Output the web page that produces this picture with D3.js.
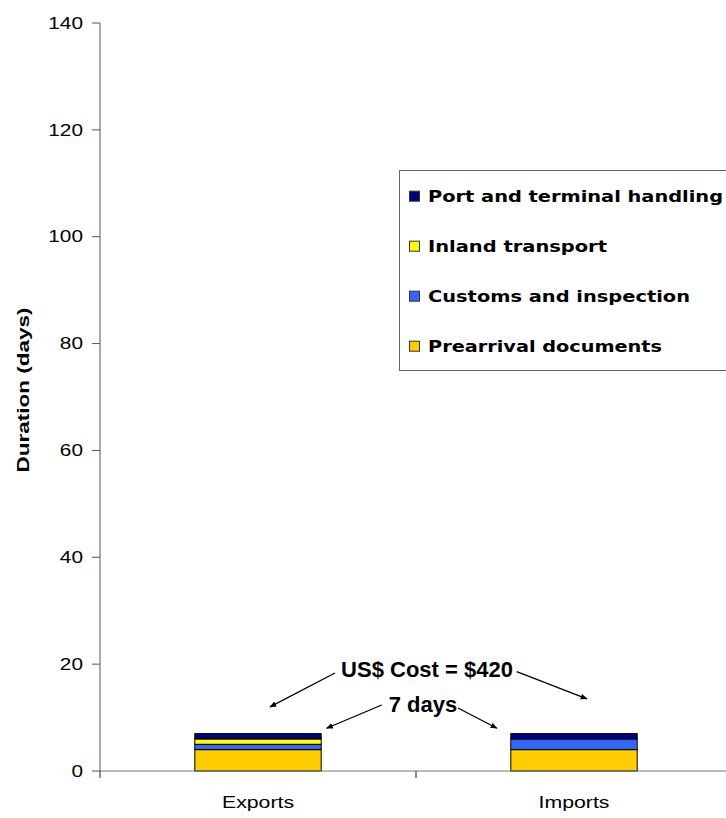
<!DOCTYPE html>
<html>
<head>
<meta charset="utf-8">
<script src="https://cdn.jsdelivr.net/npm/d3@7"></script>
<style>
  html, body { margin: 0; padding: 0; background: #fff; }
  svg { display: block; }
</style>
</head>
<body>
<svg id="chart" width="726" height="818"></svg>
<script>
// Time to trade, broken down by procedure stage (days)
const categories = ["Exports", "Imports"];
const stages = ["Prearrival documents", "Customs and inspection", "Inland transport", "Port and terminal handling"];
const prearrival = [4, 4];
const customs = [1, 2];
const inland = [1, 0];
const portHandling = [1, 1];
const yTicks = [0, 20, 40, 60, 80, 100, 120, 140];
const costLabel = "US$ Cost = $420";
const daysLabel = "7 days";

const colors = ["#FFCC00", "#3366FF", "#FFFF00", "#000080"];

const svg = d3.select("#chart");
const plotLeft = 100, plotRight = 732, plotTop = 23, plotBottom = 771;

const x = d3.scaleBand().domain(categories).range([plotLeft, plotRight]).padding(0);
const y = d3.scaleLinear().domain([0, 140]).range([plotBottom, plotTop]);

const rows = categories.map((c, i) => ({
  cat: c,
  "Prearrival documents": prearrival[i],
  "Customs and inspection": customs[i],
  "Inland transport": inland[i],
  "Port and terminal handling": portHandling[i]
}));
const series = d3.stack().keys(stages)(rows);

// Stacked bars
const barW = x.bandwidth() * 0.4;
series.forEach((s, k) => {
  svg.append("g").selectAll("rect").data(s.filter(d => d[1] > d[0])).join("rect")
    .attr("x", d => x(d.data.cat) + (x.bandwidth() - barW) / 2)
    .attr("width", barW)
    .attr("y", d => y(d[1]))
    .attr("height", d => y(d[0]) - y(d[1]))
    .attr("fill", colors[k])
    .attr("stroke", "#000")
    .attr("stroke-width", 1);
});

// Y axis
const yAxis = svg.append("g");
yAxis.append("line").attr("x1", plotLeft).attr("x2", plotLeft).attr("y1", plotTop).attr("y2", plotBottom)
  .attr("stroke", "#555").attr("stroke-width", 1);
yTicks.forEach(t => {
  yAxis.append("line").attr("x1", plotLeft - 8).attr("x2", plotLeft).attr("y1", y(t)).attr("y2", y(t))
    .attr("stroke", "#555");
  yAxis.append("text")
    .attr("transform", `translate(83,${y(t)}) scale(1.3,1)`)
    .attr("text-anchor", "end").attr("dy", "0.36em")
    .attr("font-family", "Liberation Sans, Arial, sans-serif").attr("font-size", 16)
    .attr("fill", "#000").text(t);
});

// X axis
const xAxis = svg.append("g");
xAxis.append("line").attr("x1", plotLeft).attr("x2", plotRight).attr("y1", plotBottom).attr("y2", plotBottom)
  .attr("stroke", "#777").attr("stroke-width", 1.2);
[plotLeft, ...categories.map(c => x(c) + x.bandwidth())].forEach(px => {
  xAxis.append("line").attr("x1", px).attr("x2", px).attr("y1", plotBottom).attr("y2", plotBottom + 7)
    .attr("stroke", "#222");
});
categories.forEach(c => {
  xAxis.append("text")
    .attr("transform", `translate(${x(c) + x.bandwidth() / 2},808) scale(1.33,1)`)
    .attr("text-anchor", "middle")
    .attr("font-family", "Liberation Sans, Arial, sans-serif").attr("font-size", 16)
    .attr("fill", "#000").text(c);
});

// Y axis title
svg.append("text")
  .attr("transform", "translate(29,390) rotate(-90)")
  .attr("text-anchor", "middle")
  .attr("font-family", "Liberation Sans, Arial, sans-serif").attr("font-size", 17).attr("font-weight", "bold")
  .attr("textLength", 165).attr("lengthAdjust", "spacingAndGlyphs")
  .text("Duration (days)");

// Legend
const legend = svg.append("g");
legend.append("rect").attr("x", 399.5).attr("y", 170.5).attr("width", 340).attr("height", 200)
  .attr("fill", "#fff").attr("stroke", "#666").attr("stroke-width", 1);
const legendOrder = stages.slice().reverse();
const legendLens = [295, 179, 262, 234];
legendOrder.forEach((s, i) => {
  const cy = 196.7 + i * 50;
  const k = stages.indexOf(s);
  legend.append("rect").attr("x", 409.5).attr("y", cy - 5.5).attr("width", 10).attr("height", 10)
    .attr("fill", colors[k]).attr("stroke", "#333").attr("stroke-width", 1);
  legend.append("text").attr("x", 428).attr("y", cy).attr("dy", "0.36em")
    .attr("font-family", "DejaVu Sans, Verdana, sans-serif").attr("font-size", 16).attr("font-weight", "bold")
    .attr("textLength", legendLens[i]).attr("lengthAdjust", "spacingAndGlyphs")
    .attr("fill", "#000").text(s);
});

// Annotations with arrows
const defs = svg.append("defs");
defs.append("marker").attr("id", "arrow").attr("viewBox", "0 0 10 10")
  .attr("refX", 9).attr("refY", 5).attr("markerWidth", 7).attr("markerHeight", 7)
  .attr("markerUnits", "userSpaceOnUse").attr("orient", "auto")
  .append("path").attr("d", "M0,1 L10,5 L0,9 Z").attr("fill", "#000");

const ann = svg.append("g").attr("font-family", "Liberation Sans, Arial, sans-serif")
  .attr("font-weight", "bold").attr("font-size", 22).attr("fill", "#000");
const midX = x("Imports");
ann.append("text").attr("x", midX + 11).attr("y", y(0) - 94).attr("text-anchor", "middle").text(costLabel);
ann.append("text").attr("x", midX + 7).attr("y", y(0) - 59).attr("text-anchor", "middle").text(daysLabel);

const arrows = [
  [335, 673, x("Exports") + x.bandwidth() * 0.538, y(12)],
  [516.7, 671.7, x("Imports") + x.bandwidth() * 0.541, y(13.5)],
  [381.7, 705, x("Exports") + x.bandwidth() * 0.717, y(8)],
  [458, 708, x("Imports") + x.bandwidth() * 0.256, y(8)]
];
arrows.forEach(a => {
  svg.append("line").attr("x1", a[0]).attr("y1", a[1]).attr("x2", a[2]).attr("y2", a[3])
    .attr("stroke", "#000").attr("stroke-width", 1.3).attr("marker-end", "url(#arrow)");
});
</script>
</body>
</html>
